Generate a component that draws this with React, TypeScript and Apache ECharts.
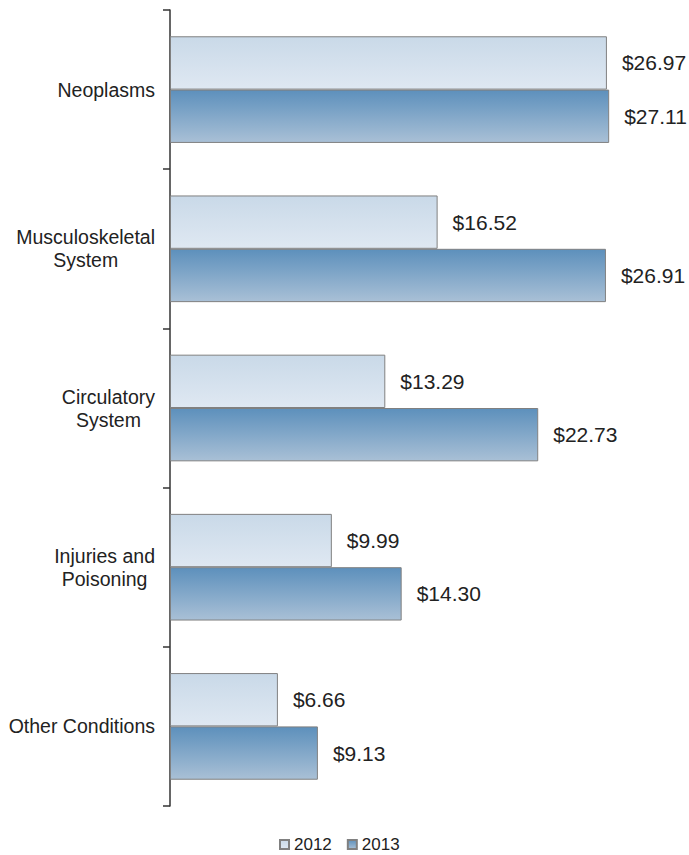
import React, { useEffect, useRef } from "react";
import * as echarts from "echarts";

const categories = [
  "Neoplasms",
  "Musculoskeletal\nSystem",
  "Circulatory\nSystem",
  "Injuries and\nPoisoning",
  "Other Conditions",
];
const values2012 = [26.97, 16.52, 13.29, 9.99, 6.66];
const values2013 = [27.11, 26.91, 22.73, 14.3, 9.13];
const seriesNames = ["2012", "2013"];

const FONT = "'Liberation Sans', Arial, sans-serif";

export default function App() {
  const ref = useRef<HTMLDivElement>(null);
  useEffect(() => {
    if (!ref.current) return;
    const chart = echarts.init(ref.current, undefined, { renderer: "svg" });
    const grad = (top: string, bottom: string) =>
      new echarts.graphic.LinearGradient(0, 0, 0, 1, [
        { offset: 0, color: top },
        { offset: 1, color: bottom },
      ]);
    const label = {
      show: true,
      position: "right" as const,
      distance: 15,
      fontSize: 21,
      fontFamily: FONT,
      color: "#222",
      formatter: (p: any) => "$" + Number(p.value).toFixed(2),
    };
    chart.setOption({
      animation: false,
      textStyle: { fontFamily: FONT },
      grid: { left: 170, right: 33, top: 10, bottom: 49, containLabel: false },
      legend: {
        data: seriesNames,
        left: 279,
        top: 836,
        padding: 0,
        itemWidth: 9,
        itemHeight: 9,
        itemGap: 15,
        icon: "rect",
        textStyle: { fontSize: 17, lineHeight: 17, color: "#222", fontFamily: FONT },
      },
      xAxis: { type: "value", min: 0, max: 30, show: false },
      yAxis: {
        type: "category",
        data: categories,
        inverse: true,
        axisLine: { show: true, lineStyle: { color: "#333", width: 1.5 } },
        axisTick: { show: true, length: 7, lineStyle: { color: "#333", width: 1.5 } },
        axisLabel: {
          margin: 15,
          formatter: (v: string) =>
            v
              .split("\n")
              .map((l) => "{c|" + l + "}")
              .join("\n"),
          rich: {
            c: {
              align: "center",
              fontSize: 19.5,
              lineHeight: 23,
              color: "#222",
              fontFamily: FONT,
            },
          },
        },
        splitLine: { show: false },
      },
      series: [
        {
          name: seriesNames[0],
          type: "bar",
          data: values2012,
          barGap: "0%",
          barCategoryGap: "33%",
          itemStyle: {
            color: grad("#c9d9e8", "#dfe8f2"),
            borderColor: "#808080",
            borderWidth: 1,
          },
          label,
        },
        {
          name: seriesNames[1],
          type: "bar",
          data: values2013,
          barGap: "0%",
          barCategoryGap: "33%",
          itemStyle: {
            color: grad("#5d90bc", "#a9c0d6"),
            borderColor: "#808080",
            borderWidth: 1,
          },
          label,
        },
      ],
    });
    return () => chart.dispose();
  }, []);
  return (
    <div
      ref={ref}
      style={{ position: "absolute", left: 0, top: 0, width: 689, height: 855 }}
    />
  );
}
